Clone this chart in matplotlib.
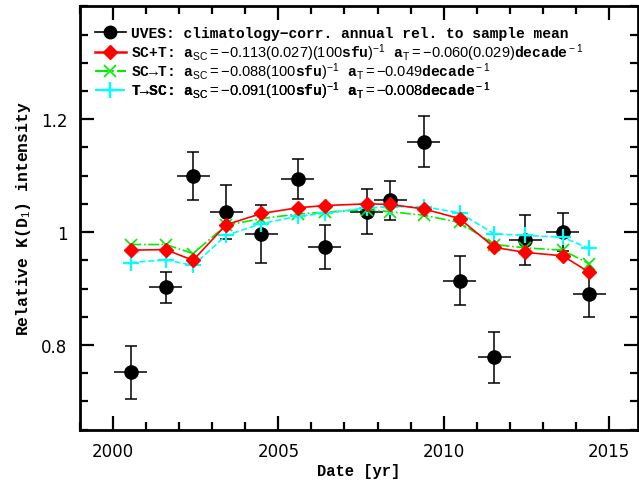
import matplotlib
matplotlib.use("Agg")
import matplotlib.pyplot as plt
from matplotlib.lines import Line2D
from matplotlib.ticker import MultipleLocator

# annual UVES values (climatology corrected, relative to sample mean)
years = [2000.53, 2001.59, 2002.42, 2003.42, 2004.49, 2005.58, 2006.40, 2007.67,
         2008.38, 2009.40, 2010.48, 2011.53, 2012.47, 2013.60, 2014.40]
uves = [0.752, 0.902, 1.099, 1.035, 0.997, 1.094, 0.974, 1.036,
        1.056, 1.160, 0.914, 0.778, 0.986, 1.000, 0.890]
uves_err = [0.047, 0.027, 0.042, 0.048, 0.051, 0.036, 0.039, 0.040,
            0.034, 0.045, 0.043, 0.045, 0.045, 0.034, 0.040]
year_err = 0.5

# model fits
sc_t = [0.968, 0.969, 0.950, 1.013, 1.033, 1.043, 1.047, 1.050,
        1.049, 1.041, 1.024, 0.973, 0.964, 0.958, 0.929]
sc_to_t = [0.978, 0.978, 0.962, 1.012, 1.024, 1.032, 1.035, 1.040,
           1.036, 1.030, 1.017, 0.978, 0.972, 0.968, 0.944]
t_to_sc = [0.946, 0.951, 0.941, 0.994, 1.015, 1.028, 1.033, 1.043,
           1.045, 1.045, 1.034, 0.997, 0.994, 0.991, 0.971]

lbl_uves = 'UVES: climatology\u2212corr. annual rel. to sample mean'
lbl_sct = (r'SC+T: a$_{\rm SC}\rm{{=}{-}0.113(0.027)(100}$sfu$\rm{)^{-1}}$ '
           r'a$_{\rm T}\rm{{=}{-}0.060(0.029)}$decade$^{\rm -1}$')
lbl_sc2t = ('SC\u2192T: a$_{\\rm SC}\\rm{{=}{-}0.088(100}$sfu$\\rm{)^{-1}}$ '
            'a$_{\\rm T}\\rm{{=}{-}0.049}$decade$^{\\rm -1}$')
lbl_t2sc = ('T\u2192SC: a$_{\\rm SC}\\rm{{=}{-}0.091(100}$sfu$\\rm{)^{-1}}$ '
            'a$_{\\rm T}\\rm{{=}{-}0.008}$decade$^{\\rm -1}$')

plt.rcParams['mathtext.fontset'] = 'custom'
plt.rcParams['mathtext.rm'] = 'Liberation Sans'
plt.rcParams['mathtext.it'] = 'Liberation Sans:italic'
plt.rcParams['mathtext.bf'] = 'Liberation Sans:bold'

fig = plt.figure(figsize=(6.39, 4.85), dpi=100)
ax = fig.add_axes([0.1252, 0.112, 0.8733, 0.873])

# error bars: caps only on the vertical bars
ax.errorbar(years, uves, yerr=uves_err, fmt='none', ecolor='black',
            elinewidth=1.1, capsize=4, capthick=1.1, zorder=2)
ax.errorbar(years, uves, xerr=year_err, fmt='none', ecolor='black',
            elinewidth=1.1, capsize=0, zorder=2)
ax.plot(years, uves, 'o', color='black', ms=9.5, zorder=2)

ax.plot(years, sc_t, '-', color='red', marker='D', ms=7.5, lw=1.2, zorder=4)
ax.plot(years, sc_to_t, '-.', color='#00ee00', marker='x', ms=9, mew=1.2, lw=1.2,
        zorder=3)
ax.plot(years, t_to_sc, '--', color='cyan', marker='+', ms=11, mew=1.6, lw=1.2,
        zorder=3)

handles = [
    Line2D([], [], color='black', marker='o', ms=9, lw=1.2),
    Line2D([], [], color='red', marker='D', ms=7.5, lw=1.8),
    Line2D([], [], color='#00ee00', ls='-.', marker='x', ms=9, mew=1.2, lw=1.5),
    Line2D([], [], color='cyan', ls='--', marker='+', ms=11, mew=1.6, lw=1.5),
]
labels = [lbl_uves, lbl_sct, lbl_sc2t, lbl_t2sc]

ax.set_xlim(1999, 2015.88)
ax.set_ylim(0.65, 1.4)
ax.xaxis.set_major_locator(MultipleLocator(5))
ax.xaxis.set_minor_locator(MultipleLocator(1))
ax.yaxis.set_minor_locator(MultipleLocator(0.05))
ax.set_yticks([0.8, 1.0, 1.2])
ax.set_yticklabels(['0.8', '1', '1.2'])

ax.tick_params(which='both', direction='in', top=True, right=True, width=1.6,
               labelsize=12, pad=9)
ax.tick_params(which='major', length=10)
ax.tick_params(which='minor', length=6)
for s in ax.spines.values():
    s.set_linewidth(2)

ax.set_xlabel('Date [yr]', labelpad=2, family='Liberation Mono', weight='bold',
              size=11.2)
ax.set_ylabel(r'Relative K(D$_{\rm 1}$) intensity', labelpad=6,
              family='Liberation Mono', weight='bold', size=11.8)

# one legend per row so that the rows stay evenly spaced
row_y = [0.936, 0.891, 0.846, 0.801]
for h, lbl, y in zip(handles, labels, row_y):
    leg = ax.legend([h], [lbl], loc='center left', bbox_to_anchor=(0.027, y),
                    frameon=False, handlelength=2.1, handletextpad=0.35,
                    borderpad=0, borderaxespad=0,
                    prop=dict(family=['Liberation Mono', 'DejaVu Sans Mono'],
                              weight='bold', size=10.5))
    ax.add_artist(leg)

fig.savefig('out.png', dpi=100)
